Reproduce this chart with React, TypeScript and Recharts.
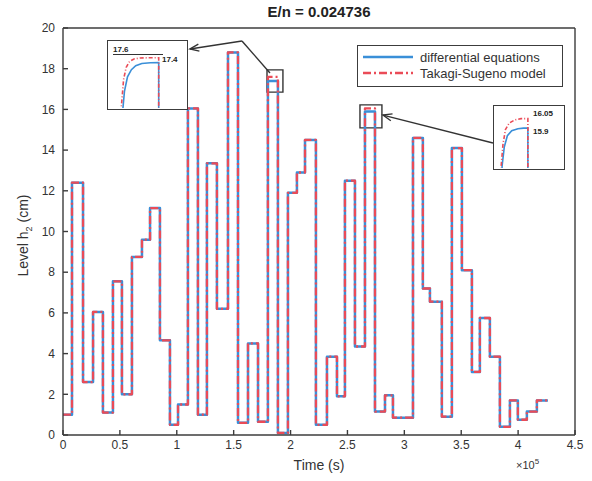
import React from 'react';
import { LineChart, Line, XAxis, YAxis, ReferenceArea, ReferenceLine, Legend } from 'recharts';

// ---- main series (time in seconds, level in cm) ----
const stepTimes = [0, 7900, 17600, 26400, 35100, 43900, 51800, 60600, 69400, 76500, 85200, 94000, 101100, 109800, 118600, 126500, 135300, 145000, 153800, 162600, 171400, 180100, 188900, 197700, 205600, 212700, 222300, 232000, 240800, 247800, 256600, 265400, 274200, 283000, 290000, 307600, 316300, 322500, 333000, 341800, 350600, 359400, 366400, 375200, 384000, 392800, 399800, 407700, 416500, 426200];
const diffLevels = [1.0, 12.4, 2.6, 6.05, 1.1, 7.55, 2.0, 8.75, 9.6, 11.15, 4.65, 0.5, 1.5, 16.05, 1.0, 13.35, 6.2, 18.8, 0.6, 4.5, 0.65, 17.4, 0.1, 11.9, 12.9, 14.5, 0.5, 3.85, 1.9, 12.5, 4.35, 15.9, 1.15, 1.95, 0.85, 14.6, 7.2, 6.55, 0.9, 14.1, 8.1, 3.1, 5.75, 3.85, 0.4, 1.7, 0.75, 1.15, 1.7, 1.7];
const tsLevels = [1.0, 12.4, 2.6, 6.05, 1.1, 7.55, 2.0, 8.75, 9.6, 11.15, 4.65, 0.5, 1.5, 16.05, 1.0, 13.35, 6.2, 18.8, 0.6, 4.5, 0.65, 17.6, 0.1, 11.9, 12.9, 14.5, 0.5, 3.85, 1.9, 12.5, 4.35, 16.05, 1.15, 1.95, 0.85, 14.6, 7.2, 6.55, 0.9, 14.1, 8.1, 3.1, 5.75, 3.85, 0.4, 1.7, 0.75, 1.15, 1.7, 1.7];

const xTicks = [0, 50000, 100000, 150000, 200000, 250000, 300000, 350000, 400000, 450000];
const yTicks = [0, 2, 4, 6, 8, 10, 12, 14, 16, 18, 20];

const seriesNames = ['differential equations', 'Takagi-Sugeno model'];
const title = 'E/n = 0.024736';

// ---- zoom inset 1 (around t = 1.85e5) ----
const inset1DiffT = [180100, 180500, 181000, 181700, 182600, 183600, 185000, 187000, 188900, 188900];
const inset1DiffV = [0.65, 15.2, 16.2, 16.8, 17.1, 17.27, 17.36, 17.39, 17.4, 0.1];
const inset1TsT = [180000, 180300, 180800, 181400, 182200, 183200, 184600, 186500, 188900, 188900];
const inset1TsV = [0.65, 15.6, 16.7, 17.2, 17.45, 17.55, 17.59, 17.6, 17.6, 0.1];
const inset1Labels = ['17.6', '17.4'];

// ---- zoom inset 2 (around t = 2.7e5) ----
const inset2DiffT = [265400, 265900, 266600, 267600, 269000, 271000, 272800, 274200, 274200];
const inset2DiffV = [4.35, 15.3, 15.6, 15.78, 15.86, 15.89, 15.9, 15.9, 1.15];
const inset2TsT = [265400, 265600, 266200, 267000, 268200, 270000, 272000, 274200, 274200];
const inset2TsV = [4.35, 15.3, 15.65, 15.88, 15.98, 16.03, 16.05, 16.05, 1.15];
const inset2Labels = ['16.05', '15.9'];

const FONT = '"Liberation Sans", Arial, Helvetica, sans-serif';
const BLUE = '#3a8fd8';
const RED = '#ea4b57';
const AXIS = '#3c3c3c';
const DASH = '8 3 2 3';

const mainData = stepTimes.map((t, i) => ({ t, diff: diffLevels[i], ts: tsLevels[i] }));

const arrow = (withHead: boolean) => (props: any) => {
  const { x1, y1, x2, y2 } = props;
  const ang = Math.atan2(y2 - y1, x2 - x1);
  const L = 9;
  const Wd = 3.5;
  const bx = x2 - L * Math.cos(ang);
  const by = y2 - L * Math.sin(ang);
  const px = -Math.sin(ang) * Wd;
  const py = Math.cos(ang) * Wd;
  return (
    <g>
      <line x1={x1} y1={y1} x2={x2} y2={y2} stroke="#333" strokeWidth={1.4} />
      {withHead && (
        <polyline
          points={`${bx + px},${by + py} ${x2},${y2} ${bx - px},${by - py}`}
          fill="none"
          stroke="#333"
          strokeWidth={1.4}
        />
      )}
    </g>
  );
};

type InsetProps = {
  left: number;
  top: number;
  w: number;
  h: number;
  xDomain: [number, number];
  yDomain: [number, number];
  diffT: number[];
  diffV: number[];
  tsT: number[];
  tsV: number[];
  children?: React.ReactNode;
};

function Inset({ left, top, w, h, xDomain, yDomain, diffT, diffV, tsT, tsV, children }: InsetProps) {
  const diffData = diffT.map((t, i) => ({ t, v: diffV[i] }));
  const tsData = tsT.map((t, i) => ({ t, v: tsV[i] }));
  return (
    <div
      style={{
        position: 'absolute',
        left,
        top,
        width: w,
        height: h,
        background: '#fff',
        border: `1.6px solid ${AXIS}`,
        boxSizing: 'border-box',
        overflow: 'hidden',
      }}
    >
      <LineChart width={w - 3} height={h - 3} margin={{ top: 0, right: 0, bottom: 0, left: 0 }}>
        <XAxis type="number" dataKey="t" domain={xDomain} hide allowDataOverflow />
        <YAxis type="number" domain={yDomain} hide allowDataOverflow />
        <Line data={diffData} dataKey="v" type="linear" stroke={BLUE} strokeWidth={1.6} dot={false} isAnimationActive={false} />
        <Line data={tsData} dataKey="v" type="linear" stroke={RED} strokeWidth={1.6} strokeDasharray="4 2 1 2" dot={false} isAnimationActive={false} />
      </LineChart>
      {children}
    </div>
  );
}

const tipStyle: React.CSSProperties = {
  position: 'absolute',
  fontFamily: FONT,
  fontSize: 8,
  fontWeight: 'bold',
  color: '#222',
  lineHeight: '9px',
  whiteSpace: 'nowrap',
};

export default function App() {
  return (
    <div style={{ position: 'absolute', left: 0, top: 0, width: 592, height: 481, background: '#fff', fontFamily: FONT }}>
      <LineChart width={592} height={481} data={mainData} margin={{ top: 0, right: 0, bottom: 0, left: 0 }}>
        <XAxis
          xAxisId="bottom"
          type="number"
          dataKey="t"
          domain={[0, 450000]}
          ticks={xTicks}
          interval={0}
          height={46}
          tickFormatter={(v: number) => String(v / 100000)}
          tickSize={-5}
          tickMargin={10}
          stroke={AXIS}
          strokeWidth={1.4}
          tick={{ fill: '#333', fontSize: 12, fontFamily: FONT }}
          label={{
            content: (p: any) => (
              <text
                x={p.viewBox.x + p.viewBox.width / 2}
                y={p.viewBox.y + 35}
                textAnchor="middle"
                fontSize={14}
                fill="#333"
                fontFamily={FONT}
              >
                Time (s)
              </text>
            ),
          }}
        />
        <XAxis
          xAxisId="top"
          orientation="top"
          type="number"
          dataKey="t"
          domain={[0, 450000]}
          ticks={xTicks}
          interval={0}
          height={28}
          tick={false}
          tickSize={-5}
          stroke={AXIS}
          strokeWidth={1.4}
        />
        <YAxis
          yAxisId="left"
          type="number"
          domain={[0, 20]}
          ticks={yTicks}
          interval={0}
          width={63}
          tickSize={-5}
          tickMargin={13}
          stroke={AXIS}
          strokeWidth={1.4}
          tick={{ fill: '#333', fontSize: 12, fontFamily: FONT }}
          label={{
            content: (p: any) => {
              const cx = p.viewBox.x + 28;
              const cy = p.viewBox.y + p.viewBox.height / 2 + 4;
              return (
                <text
                  x={cx}
                  y={cy}
                  transform={`rotate(-90 ${cx} ${cy})`}
                  textAnchor="middle"
                  fontSize={14}
                  fill="#333"
                  fontFamily={FONT}
                >
                  Level h
                  <tspan fontSize={9} dy={4}>2</tspan>
                  <tspan dy={-4}> (cm)</tspan>
                </text>
              );
            },
          }}
        />
        <YAxis
          yAxisId="right"
          orientation="right"
          type="number"
          domain={[0, 20]}
          ticks={yTicks}
          interval={0}
          width={17}
          tick={false}
          tickSize={-5}
          stroke={AXIS}
          strokeWidth={1.4}
        />
        <Line
          xAxisId="bottom"
          yAxisId="left"
          name={seriesNames[0]}
          dataKey="diff"
          type="stepAfter"
          stroke={BLUE}
          strokeWidth={2.5}
          strokeLinejoin="round"
          dot={false}
          isAnimationActive={false}
        />
        <Line
          xAxisId="bottom"
          yAxisId="left"
          name={seriesNames[1]}
          dataKey="ts"
          type="stepAfter"
          stroke={RED}
          strokeWidth={2.3}
          strokeLinejoin="round"
          strokeDasharray={DASH}
          dot={false}
          isAnimationActive={false}
        />
        <ReferenceArea xAxisId="bottom" yAxisId="left" x1={179300} x2={193300} y1={16.85} y2={17.94} fill="none" stroke="#333" strokeWidth={1.4} />
        <ReferenceArea xAxisId="bottom" yAxisId="left" x1={261000} x2={280300} y1={15.09} y2={16.22} fill="none" stroke="#333" strokeWidth={1.4} />
        <ReferenceLine xAxisId="bottom" yAxisId="left" segment={[{ x: 181900, y: 17.79 }, { x: 157300, y: 19.36 }]} shape={arrow(false)} />
        <ReferenceLine xAxisId="bottom" yAxisId="left" segment={[{ x: 157300, y: 19.36 }, { x: 111600, y: 18.97 }]} shape={arrow(true)} />
        <ReferenceLine xAxisId="bottom" yAxisId="left" segment={[{ x: 377900, y: 14.35 }, { x: 281200, y: 15.72 }]} shape={arrow(true)} />
        <Legend
          layout="vertical"
          align="center"
          verticalAlign="middle"
          wrapperStyle={{ left: 357, top: 45, width: 206, height: 42 }}
          content={() => (
            <div
              style={{
                width: 206,
                height: 42,
                boxSizing: 'border-box',
                border: `1.4px solid ${AXIS}`,
                background: '#fff',
                fontFamily: FONT,
                fontSize: 13,
                color: '#333',
                padding: '3px 0 0 5px',
              }}
            >
              {seriesNames.map((n, i) => (
                <div key={n} style={{ display: 'flex', alignItems: 'center', height: 16 }}>
                  <svg width={52} height={8} style={{ marginRight: 5 }}>
                    <line
                      x1={0}
                      y1={4}
                      x2={50}
                      y2={4}
                      stroke={i === 0 ? BLUE : RED}
                      strokeWidth={2.3}
                      strokeDasharray={i === 0 ? undefined : DASH}
                    />
                  </svg>
                  <span>{n}</span>
                </div>
              ))}
            </div>
          )}
        />
      </LineChart>

      <div
        style={{
          position: 'absolute',
          left: 63,
          width: 512,
          top: 3,
          textAlign: 'center',
          fontFamily: FONT,
          fontWeight: 'bold',
          fontSize: 15,
          color: '#222',
        }}
      >
        {title}
      </div>
      <div style={{ position: 'absolute', left: 516, top: 457, fontFamily: FONT, fontSize: 11, color: '#333' }}>
        ×10<sup style={{ fontSize: 8 }}>5</sup>
      </div>

      <Inset
        left={107}
        top={40}
        w={81}
        h={70}
        xDomain={[177200, 195200]}
        yDomain={[15.5, 18.3]}
        diffT={inset1DiffT}
        diffV={inset1DiffV}
        tsT={inset1TsT}
        tsV={inset1TsV}
      >
        <div style={{ ...tipStyle, left: 5, top: 4, borderBottom: '1px solid #333', width: 50 }}>{inset1Labels[0]}</div>
        <div style={{ ...tipStyle, left: 54, top: 14 }}>{inset1Labels[1]}</div>
      </Inset>
      <Inset
        left={493}
        top={105}
        w={72}
        h={65}
        xDomain={[263300, 285500]}
        yDomain={[15.27, 16.25]}
        diffT={inset2DiffT}
        diffV={inset2DiffV}
        tsT={inset2TsT}
        tsV={inset2TsV}
      >
        <div style={{ ...tipStyle, left: 39, top: 3 }}>{inset2Labels[0]}</div>
        <div style={{ ...tipStyle, left: 39, top: 21 }}>{inset2Labels[1]}</div>
      </Inset>
    </div>
  );
}
